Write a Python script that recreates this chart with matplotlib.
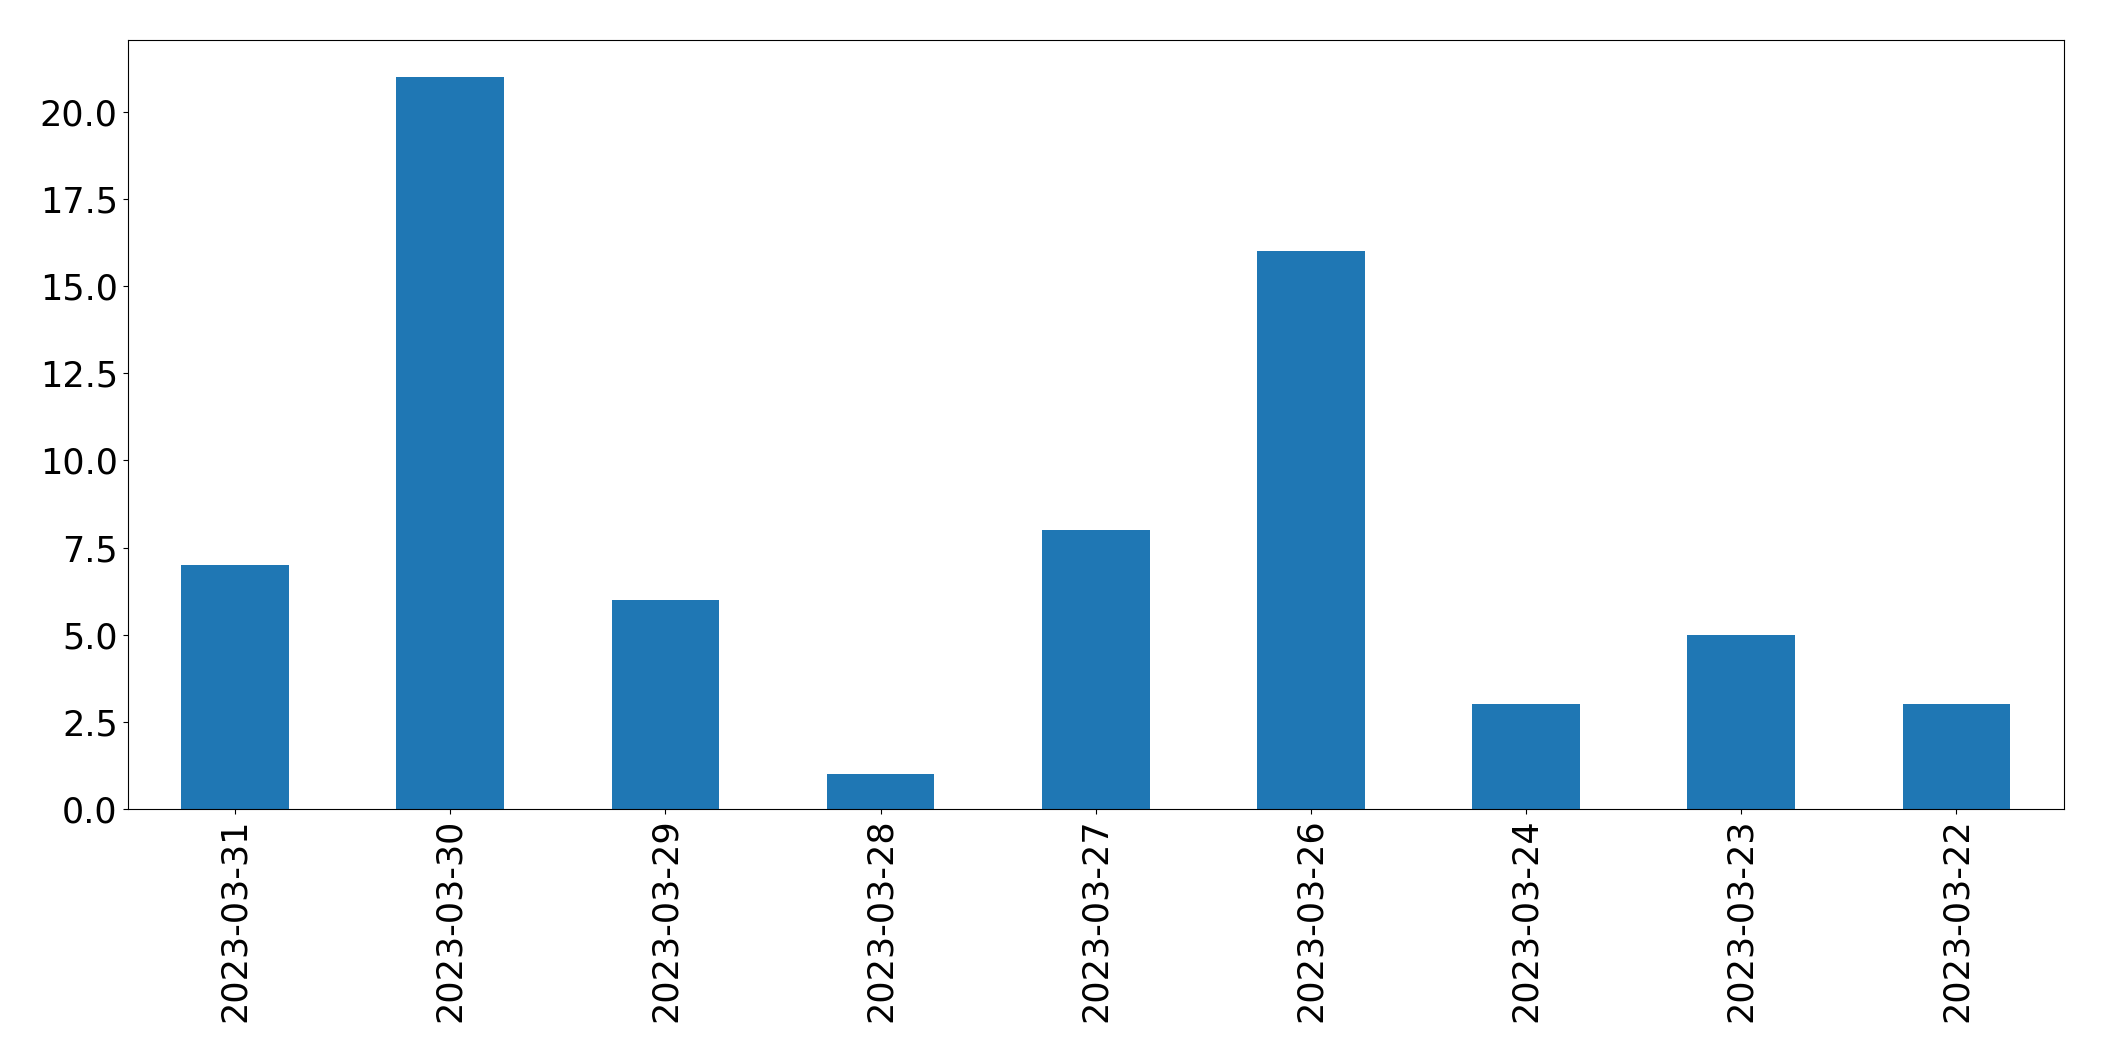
import matplotlib
matplotlib.use("Agg")
import matplotlib.pyplot as plt
import pandas as pd

# data
dates = ["2023-03-31", "2023-03-30", "2023-03-29", "2023-03-28", "2023-03-27",
         "2023-03-26", "2023-03-24", "2023-03-23", "2023-03-22"]
counts = [7, 21, 6, 1, 8, 16, 3, 5, 3]

plt.rcParams["font.size"] = 25.2

s = pd.Series(counts, index=dates)

fig = plt.figure(figsize=(21.04, 10.61), dpi=100)
ax = fig.add_axes([0.0606, 0.2375, 0.9204, 0.7245])
s.plot(kind="bar", ax=ax, color="#1f77b4")
ax.tick_params(axis="x", labelrotation=90)

fig.savefig("out.png", dpi=100)
